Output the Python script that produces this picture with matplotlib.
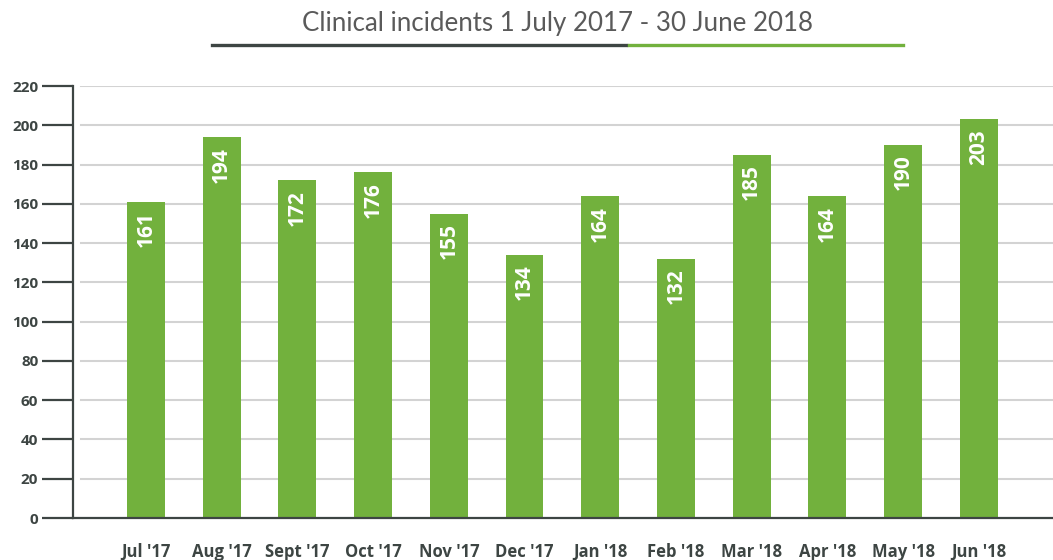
import matplotlib
matplotlib.use('Agg')
import matplotlib.pyplot as plt
from matplotlib.lines import Line2D

# Monthly clinical incidents
months = ["Jul '17", "Aug '17", "Sept '17", "Oct '17", "Nov '17", "Dec '17",
          "Jan '18", "Feb '18", "Mar '18", "Apr '18", "May '18", "Jun '18"]
incidents = [161, 194, 172, 176, 155, 134, 164, 132, 185, 164, 190, 203]
y_ticks = list(range(0, 221, 20))

green = '#72b13d'
dark = '#3d4543'
W, H = 1053, 560

fig = plt.figure(figsize=(W / 100, H / 100), dpi=100)
ax = fig.add_axes([73 / W, 42 / H, 980 / W, 432 / H])

x = list(range(len(months)))
ax.bar(x, incidents, width=0.5, color=green, zorder=2)

# Value labels inside top of bars
for i, v in zip(x, incidents):
    ax.annotate(str(v), (i, v), xytext=(0, -7), textcoords='offset points',
                rotation=90, ha='center', va='top', color='white',
                fontsize=15, fontweight='bold', family='Open Sans', zorder=3)

# Gridlines (start a little right of the axis line)
for y in y_ticks[1:]:
    ax.axhline(y, xmin=8 / 980, xmax=1, color='#d3d3d3', lw=1.5, zorder=0)

ax.set_xlim(-0.964, 11.98)
ax.set_ylim(0, 220)
ax.set_yticks(y_ticks)
ax.set_xticks(x)
ax.set_xticklabels(months)

for s in ['top', 'right']:
    ax.spines[s].set_visible(False)
for s in ['left', 'bottom']:
    ax.spines[s].set_color(dark)
    ax.spines[s].set_linewidth(1.6)

ax.tick_params(axis='y', length=22, width=1.6, color=dark, pad=3,
               labelsize=11, labelcolor=dark)
ax.tick_params(axis='x', length=0, pad=18, labelsize=12, labelcolor=dark)
for lab in ax.get_xticklabels() + ax.get_yticklabels():
    lab.set_family('Open Sans')
    lab.set_fontweight('bold')

# Title with two-tone underline
fig.text(557 / W, 1 - 23 / H, 'Clinical incidents 1 July 2017 - 30 June 2018',
         ha='center', va='center', fontsize=18.6, family='Lato',
         fontweight='normal', color='#5a5a5a')
ly = 1 - 44.7 / H
fig.add_artist(Line2D([212 / W, 626 / W], [ly, ly], color=dark, lw=2.4))
fig.add_artist(Line2D([629 / W, 903 / W], [ly, ly], color=green, lw=2.4))

fig.savefig('out.png', dpi=100)
